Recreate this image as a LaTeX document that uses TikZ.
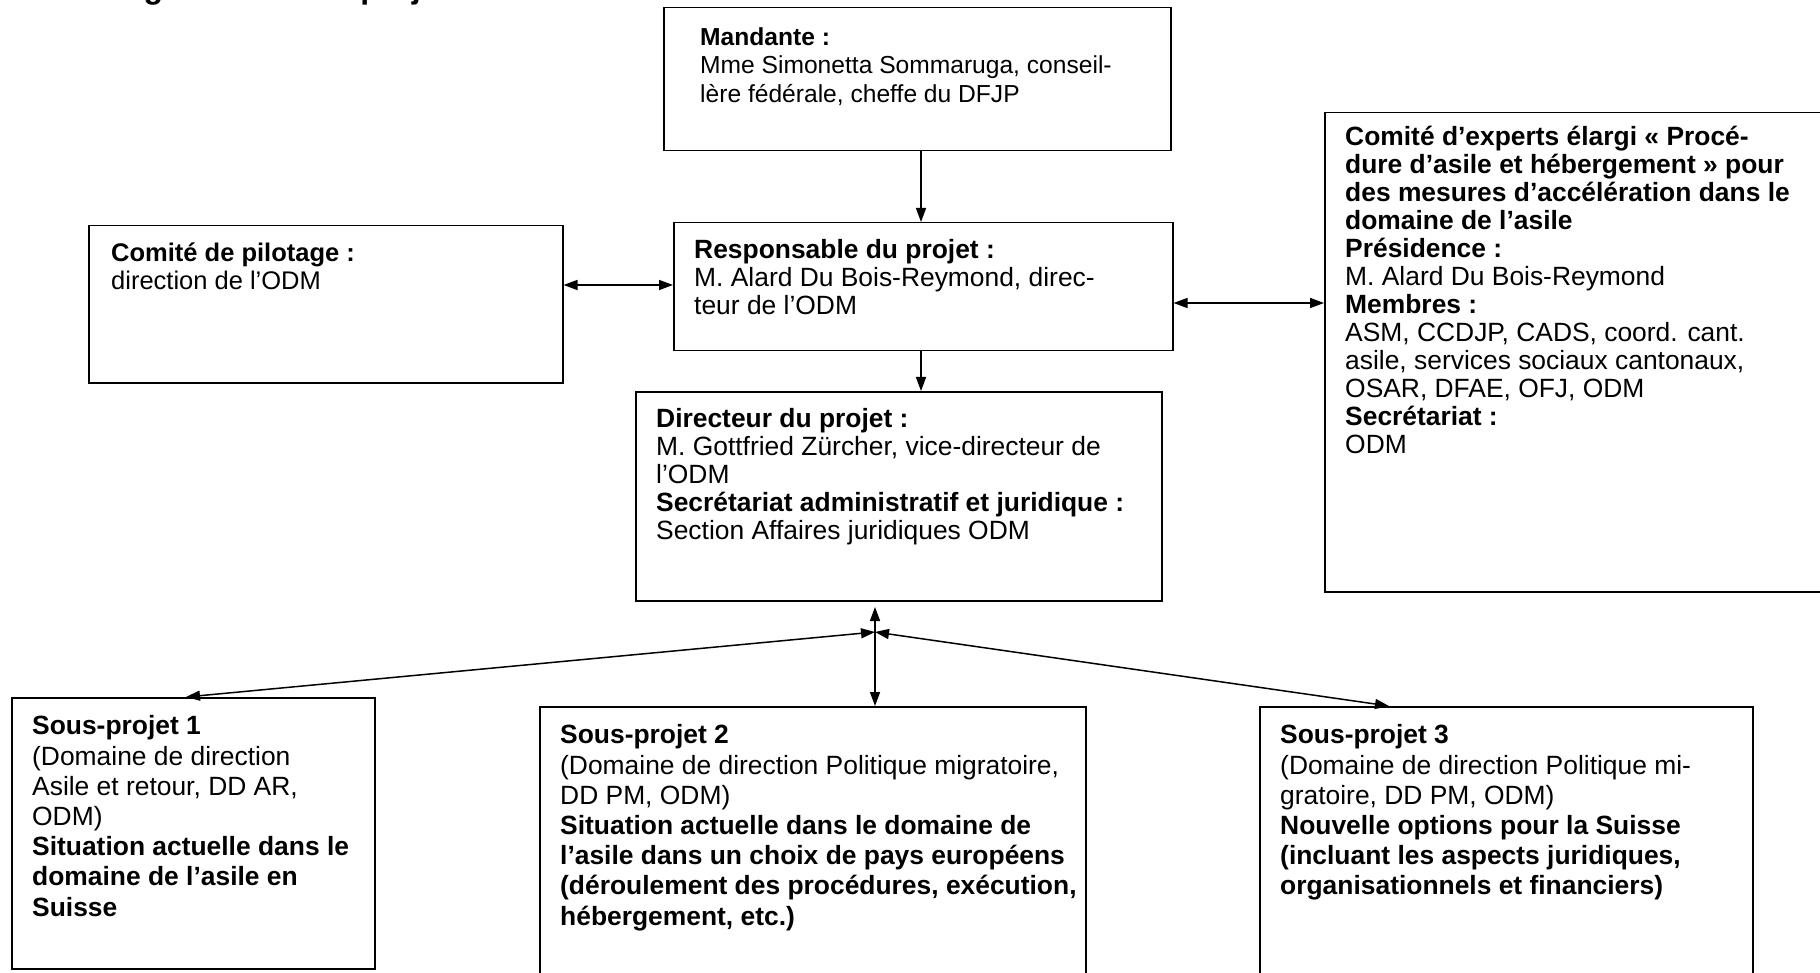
\documentclass[tikz,border=0pt]{standalone}
\usepackage{fontspec}
\setmainfont{Liberation Sans}
\usetikzlibrary{arrows.meta}
\begin{document}
\begin{tikzpicture}[x=1pt,y=-1pt,
  box/.style={draw, line width=1.5pt, inner sep=0pt, anchor=north west},
  txt/.style={anchor=north west, inner sep=0pt, align=left, font=\fontsize{26.4}{28}\selectfont},
  txtsp/.style={anchor=north west, inner sep=0pt, align=left, font=\fontsize{26.4}{30.2}\selectfont},
  link/.style={line width=1.5pt, {Triangle[length=14pt,width=10pt]}-{Triangle[length=14pt,width=10pt]}},
  lnk/.style={line width=1.5pt, -{Triangle[length=14pt,width=10pt]}}
]
\useasboundingbox (0,0) rectangle (1820,973);

% title (mostly cut off at the top)
\node[anchor=base west, inner sep=0pt, font=\fontsize{32}{38}\selectfont\bfseries] (title) at (106,-1) {Organisation du projet};

% boxes
\node[box, minimum width=507pt, minimum height=143pt] (mand) at (663,7) {};
\node[box, minimum width=474pt, minimum height=157pt] (comp) at (88,225) {};
\node[box, minimum width=499pt, minimum height=128pt] (resp) at (673,222) {};
\node[box, minimum width=530pt, minimum height=479pt] (expt) at (1324,112) {};
\node[box, minimum width=526pt, minimum height=209pt] (dir) at (635,391) {};
\node[box, minimum width=363pt, minimum height=271pt] (sp1) at (11,697) {};
\node[box, minimum width=546pt, minimum height=290pt] (sp2) at (539,706) {};
\node[box, minimum width=493pt, minimum height=290pt] (sp3) at (1259,706) {};

% texts
\node[txt, font=\fontsize{24.6}{28.5}\selectfont] (mandt) at (700,25) {\strut\textbf{Mandante :}\\Mme Simonetta Sommaruga, conseil-\\lère fédérale, cheffe du DFJP};
\node[txt, font=\fontsize{25.5}{28}\selectfont] (compt) at (111,241.5) {\strut\textbf{Comité de pilotage :}\\direction de l’ODM};
\node[txt] (respt) at (694,238.5) {\strut\textbf{Responsable du projet :}\\M. Alard Du Bois-Reymond, direc-\\teur de l’ODM};
\node[txt] (exptt) at (1345,125.5) {\strut\textbf{Comité d’experts élargi « Procé-}\\\textbf{dure d’asile et hébergement » pour}\\\textbf{des mesures d’accélération dans le}\\\textbf{domaine de l’asile}\\\textbf{Présidence :}\\M. Alard Du Bois-Reymond\\\textbf{Membres :}\\ASM, CCDJP, CADS, coord. cant.\\asile, services sociaux cantonaux,\\OSAR, DFAE, OFJ, ODM\\\textbf{Secrétariat :}\\ODM};
\node[txt] (dirt) at (656,407.5) {\strut\textbf{Directeur du projet :}\\M. Gottfried Zürcher, vice-directeur de\\l’ODM\\\textbf{Secrétariat administratif et juridique :}\\Section Affaires juridiques ODM};
\node[txtsp] (sp1t) at (32,713.5) {\strut\textbf{Sous-projet 1}\\(Domaine de direction\\Asile et retour, DD AR,\\ODM)\\\textbf{Situation actuelle dans le}\\\textbf{domaine de l’asile en}\\\textbf{Suisse}};
\node[txtsp] (sp2t) at (560,722.5) {\strut\textbf{Sous-projet 2}\\(Domaine de direction Politique migratoire,\\DD PM, ODM)\\\textbf{Situation actuelle dans le domaine de}\\\textbf{l’asile dans un choix de pays européens}\\\textbf{(déroulement des procédures, exécution,}\\\textbf{hébergement, etc.)}};
\node[txtsp] (sp3t) at (1280,722.5) {\strut\textbf{Sous-projet 3}\\(Domaine de direction Politique mi-\\gratoire, DD PM, ODM)\\\textbf{Nouvelle options pour la Suisse}\\\textbf{(incluant les aspects juridiques,}\\\textbf{organisationnels et financiers)}};

% guide coordinates
\coordinate (ax) at (921,0);
\coordinate (ay1) at (0,285);
\coordinate (ay2) at (0,303);
\coordinate (J) at (875,632);
\coordinate (T) at (875,607);

% connectors
\draw[lnk] (mand.south -| ax) -- (resp.north -| ax);
\draw[lnk] (resp.south -| ax) -- (dir.north -| ax);
\draw[link] (comp.east |- ay1) -- (resp.west |- ay1);
\draw[link] (resp.east |- ay2) -- (expt.west |- ay2);
\draw[link] (T) -- (sp2.north -| T);
\draw[link] ([xshift=175pt]sp1.north west) -- (J);
\draw[link] (J) -- ([xshift=130pt]sp3.north west);
\end{tikzpicture}
\end{document}
